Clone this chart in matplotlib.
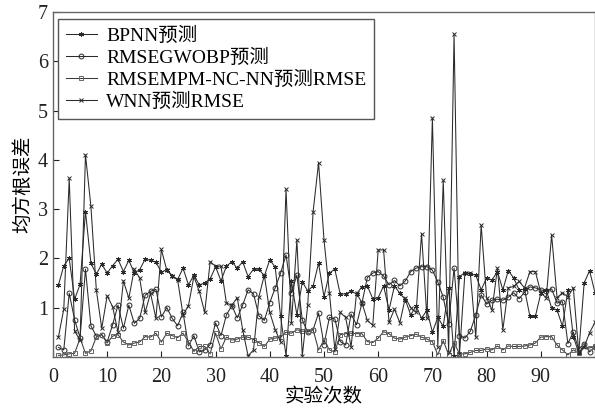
import matplotlib
matplotlib.use("Agg")
import matplotlib.pyplot as plt

plt.rcParams['font.family'] = ['Liberation Serif', 'Noto Sans CJK SC']

runs = list(range(1, 101))

bpnn = [1.45, 1.85, 2.0, 1.17, 1.47, 2.95, 1.9, 1.68, 1.88, 1.7,
        1.85, 1.98, 1.73, 1.96, 1.7, 1.77, 1.98, 1.96, 1.92, 1.72,
        1.77, 1.65, 1.57, 1.8, 1.46, 1.66, 1.46, 1.5, 1.58, 1.83,
        1.54, 1.84, 1.93, 1.8, 1.93, 1.63, 1.78, 1.78, 1.64, 1.97,
        1.82, 0.82, 0.02, 1.53, 0.85, 1.52, 1.34, 1.44, 1.9, 1.22,
        1.7, 1.78, 1.27, 1.28, 1.33, 1.28, 1.42, 1.44, 1.18, 1.2,
        1.44, 0.95, 1.44, 1.29, 1.16, 0.85, 1.03, 0.78, 0.95, 0.5,
        0.8, 0.62, 1.39, 0.02, 1.63, 1.71, 1.68, 1.66, 1.36, 1.6,
        1.56, 1.73, 1.36, 1.75, 1.6, 1.36, 1.37, 0.82, 0.82, 1.29,
        1.36, 0.99, 0.95, 0.62, 1.36, 0.41, 0.08, 1.5, 1.75, 1.3]

gwobp = [0.19, 0.14, 1.29, 0.75, 0.39, 1.78, 0.63, 0.42, 0.45, 0.3,
         0.65, 1.05, 0.58, 1.05, 0.68, 0.78, 1.25, 1.33, 1.37, 0.81,
         1.0, 0.78, 0.63, 0.9, 0.22, 0.43, 0.1, 0.14, 0.25, 0.69,
         0.43, 0.85, 1.04, 0.79, 1.05, 1.36, 1.28, 0.83, 0.74, 1.1,
         1.4, 1.7, 2.07, 1.3, 1.66, 0.75, 0.5, 0.55, 0.89, 0.25,
         0.8, 0.77, 0.31, 0.24, 0.87, 0.65, 1.09, 1.61, 1.7, 1.73,
         1.64, 1.46, 1.55, 1.44, 1.54, 1.73, 1.8, 1.83, 1.83, 1.76,
         1.52, 1.21, 0.67, 1.8, 0.43, 0.38, 0.52, 0.85, 1.26, 1.07,
         1.15, 1.17, 1.15, 1.21, 1.3, 1.18, 1.31, 1.42, 1.4, 1.36,
         1.33, 1.38, 1.09, 1.12, 0.27, 0.5, 0.15, 0.27, 0.1, 0.2]

mpm = [0.03, 0.04, 0.06, 0.07, 0.38, 0.07, 0.12, 0.4, 0.45, 0.28,
       0.42, 0.45, 0.3, 0.24, 0.28, 0.3, 0.41, 0.4, 0.48, 0.3,
       0.48, 0.43, 0.39, 0.48, 0.3, 0.11, 0.21, 0.21, 0.06, 0.48,
       0.16, 0.4, 0.34, 0.36, 0.4, 0.4, 0.35, 0.29, 0.21, 0.36,
       0.38, 0.4, 0.5, 0.48, 0.55, 0.52, 0.52, 0.55, 0.14, 0.34,
       0.14, 0.1, 0.45, 0.47, 0.48, 0.47, 0.47, 0.31, 0.29, 0.38,
       0.51, 0.47, 0.38, 0.36, 0.4, 0.43, 0.46, 0.4, 0.36, 0.31,
       0.04, 0.33, 0.04, 0.29, 0.06, 0.06, 0.09, 0.13, 0.13, 0.16,
       0.14, 0.22, 0.14, 0.22, 0.21, 0.21, 0.22, 0.24, 0.28, 0.4,
       0.41, 0.41, 0.24, 0.14, 0.04, 0.14, 0.07, 0.21, 0.18, 0.21]

wnn = [0.4, 0.97, 3.62, 0.52, 0.34, 4.1, 3.06, 1.36, 0.58, 1.24,
       1.02, 0.5, 1.54, 1.19, 1.78, 1.6, 0.9, 1.29, 0.78, 2.18,
       1.76, 1.64, 1.56, 0.85, 1.04, 1.63, 1.33, 0.9, 1.93, 1.84,
       1.84, 1.09, 1.05, 1.2, 0.55, 0.02, 0.14, 1.22, 1.66, 0.9,
       0.55, 0.3, 3.4, 0.68, 2.37, 0.02, 1.05, 2.95, 3.94, 2.38,
       1.3, 0.15, 0.9, 0.8, 0.2, 1.29, 1.1, 0.74, 0.64, 2.17,
       2.17, 0.7, 0.97, 0.69, 1.2, 1.0, 0.9, 2.5, 0.78, 4.85,
       0.2, 3.58, 0.1, 6.55, 0.05, 1.7, 1.7, 0.4, 2.67, 1.2,
       0.95, 1.8, 0.55, 1.4, 1.43, 1.53, 1.4, 1.73, 1.73, 1.3,
       1.2, 2.47, 1.2, 1.3, 1.22, 1.4, 0.1, 0.2, 0.49, 0.7]

labels = ['BPNN预测', 'RMSEGWOBP预测', 'RMSEMPM-NC-NN预测RMSE', 'WNN预测RMSE']

fig = plt.figure(figsize=(5.95, 4.13), dpi=100)
ax = fig.add_axes([0.089, 0.136, 0.911, 0.835])

line_kw = dict(color='#2a2a2a', lw=0.75, markersize=3.5, markeredgewidth=0.7)
ax.plot(runs, bpnn, marker=(6, 2, 0), label=labels[0], **line_kw)
ax.plot(runs, gwobp, marker='o', mfc='none', label=labels[1], **line_kw)
ax.plot(runs, mpm, marker='s', mfc='none', mec='#666666', label=labels[2],
        color='#3a3a3a', lw=0.75, markersize=3.2, markeredgewidth=0.7)
ax.plot(runs, wnn, marker='x', label=labels[3], **line_kw)

ax.set_xlim(0, 100)
ax.set_ylim(0, 7)
ax.set_xticks(range(0, 100, 10))
ax.set_yticks(range(1, 8))
ax.tick_params(direction='in', length=4, labelsize=14.5, colors='#222222')
ax.tick_params(axis='x', pad=8)
for s in ax.spines.values():
    s.set_color('#666666')
    s.set_linewidth(1.0)

ax.set_xlabel('实验次数', fontsize=14, labelpad=1)
ax.set_ylabel('均方根误差', fontsize=14, labelpad=4)

leg = ax.legend(loc='upper left', bbox_to_anchor=(0.009, 0.979), fontsize=14,
                frameon=True, fancybox=False, edgecolor='#555555', framealpha=1,
                borderaxespad=0, handlelength=1.6, handletextpad=0.5,
                labelspacing=0.2, borderpad=0.4)
leg.get_frame().set_linewidth(1.0)

fig.savefig('out.png', dpi=100)
